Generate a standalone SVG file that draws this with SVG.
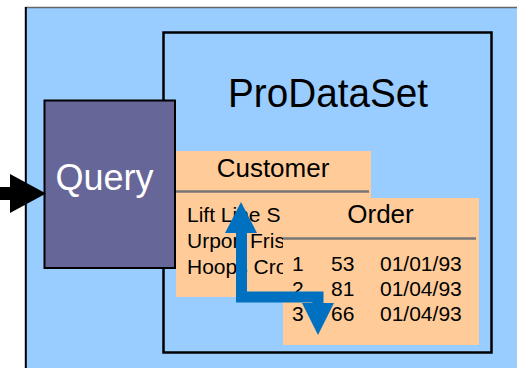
<svg xmlns="http://www.w3.org/2000/svg" width="517" height="368" viewBox="0 0 517 368">
<style>
text{font-family:"Liberation Sans",Arial,sans-serif;fill:#000}
.tbl{fill:#FFCC99}
.hdr{font-size:26px;text-anchor:middle}
.row{font-size:21px}
.sep{stroke:#777;stroke-width:2.5}
.blue{fill:#0070C0}
</style>
<rect x="0" y="0" width="517" height="368" fill="#fff"/>
<g id="frame">
<rect x="25" y="7" width="500" height="370" fill="#99CCFF"/>
<line x1="25" y1="7.5" x2="517" y2="7.5" stroke="#666" stroke-width="1.5"/>
<line x1="25.8" y1="7" x2="25.8" y2="368" stroke="#000" stroke-width="2"/>
</g>
<g id="prodataset">
<rect x="163.5" y="32.5" width="328" height="320" fill="#99CCFF" stroke="#000" stroke-width="2.5"/>
<text x="328" y="107" font-size="40" text-anchor="middle" textLength="200" lengthAdjust="spacingAndGlyphs">ProDataSet</text>
</g>
<g id="query">
<rect x="44.5" y="100.5" width="130.5" height="167.5" fill="#666699" stroke="#000" stroke-width="2"/>
<text x="104.5" y="190" font-size="36" text-anchor="middle" style="fill:#fff">Query</text>
</g>
<g id="customer">
<rect class="tbl" x="176" y="151" width="195" height="146"/>
<text class="hdr" x="273" y="176.5">Customer</text>
<line class="sep" x1="176" y1="191.5" x2="369" y2="191.5"/>
<text class="row" x="187" y="222">Lift Line S</text>
<text class="row" x="187" y="248">Urpon Fris</text>
<text class="row" x="187" y="274">Hoops Cro</text>
</g>
<g id="order">
<rect class="tbl" x="283" y="198" width="196" height="147"/>
<text class="hdr" x="380.5" y="223">Order</text>
<line class="sep" x1="283" y1="238.5" x2="476" y2="238.5" stroke-width="2"/>
<text class="row" x="292" y="271">1</text>
<text class="row" x="331" y="271">53</text>
<text class="row" x="380" y="271">01/01/93</text>
<text class="row" x="292" y="296">2</text>
<text class="row" x="331" y="296">81</text>
<text class="row" x="380" y="296">01/04/93</text>
<text class="row" x="292" y="321">3</text>
<text class="row" x="331" y="321">66</text>
<text class="row" x="380" y="321">01/04/93</text>
</g>
<g id="connectors">
<g id="input-arrow">
<rect x="0" y="187" width="12" height="13" fill="#000"/>
<polygon points="10,174 46,193.5 10,213" fill="#000"/>
</g>
<g id="relation-arrow">
<polyline points="241.5,231 241.5,297 318,297 318,305" fill="none" stroke="#0070C0" stroke-width="11"/>
<polygon class="blue" points="241,202 225,233 257,233"/>
<polygon class="blue" points="302,303 334,303 318,335"/>
</g>
</g>
</svg>
